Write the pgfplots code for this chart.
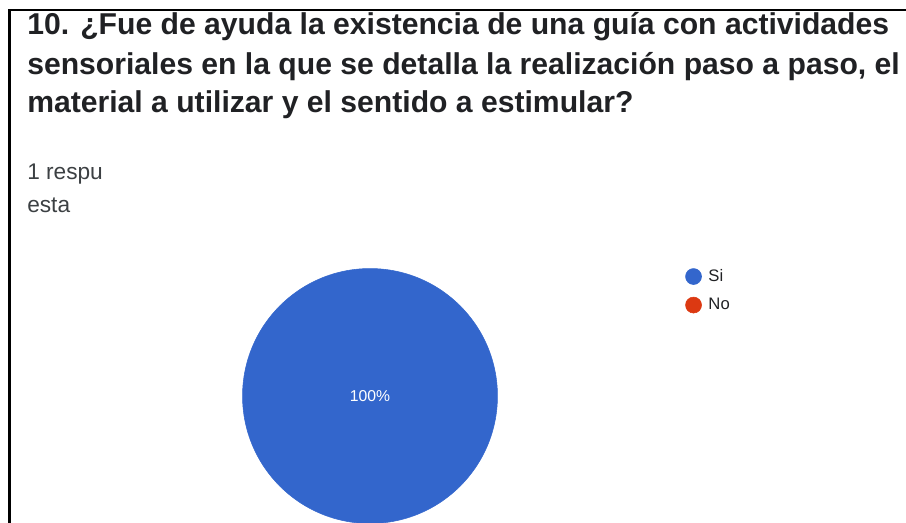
\documentclass[border=0pt]{standalone}
\usepackage{fontspec}
\setmainfont{Liberation Sans}
\usepackage{pgfplots}
\pgfplotsset{compat=1.18}
\definecolor{pieblue}{HTML}{3366CC}
\definecolor{piered}{HTML}{DC3912}
\definecolor{titlecol}{HTML}{202124}
\definecolor{subcol}{HTML}{3C4043}
\begin{document}
\begin{tikzpicture}
\begin{axis}[
  scale only axis, width=679.5pt, height=392.25pt,
  xmin=0, xmax=906, ymin=0, ymax=523, y dir=reverse,
  hide axis, clip=false,
  legend style={at={(axis cs:685,268)}, anchor=north west, draw=none, fill=none,
    font=\fontsize{12.5pt}{14pt}\selectfont\color{titlecol}, inner sep=0pt,
    row sep=9pt, nodes={inner xsep=5pt, inner ysep=0pt}},
  legend cell align=left,
  legend image code/.code={\fill[#1] (6pt,0pt) circle (6pt);},
]
\coordinate (bl) at (rel axis cs:0,0);
\coordinate (tr) at (rel axis cs:1,1);
% pie: single category with 100 %
\addplot[only marks, mark=*, mark size=95.6pt, color=pieblue, forget plot]
  coordinates {(370,396)};
\addplot[draw=none, mark=none, forget plot, nodes near coords, point meta=explicit symbolic,
  every node near coord/.append style={anchor=center, text=white,
    font=\fontsize{11.8pt}{13pt}\selectfont}]
  coordinates {(370,396) [100\%]};
\addlegendimage{pieblue}
\addlegendentry{Si}
\addlegendimage{piered}
\addlegendentry{No}
% text
\node[anchor=base west, inner sep=0pt, text=titlecol, font=\fontsize{22.6pt}{26pt}\selectfont\bfseries]
  at (axis cs:27,35) {10. ¿Fue de ayuda la existencia de una guía con actividades};
\node[anchor=base west, inner sep=0pt, text=titlecol, font=\fontsize{22.6pt}{26pt}\selectfont\bfseries]
  at (axis cs:27,75) {sensoriales en la que se detalla la realización paso a paso, el};
\node[anchor=base west, inner sep=0pt, text=titlecol, font=\fontsize{22.6pt}{26pt}\selectfont\bfseries]
  at (axis cs:27,113) {material a utilizar y el sentido a estimular?};
\node[anchor=base west, inner sep=0pt, text=subcol, font=\fontsize{17pt}{19pt}\selectfont]
  at (axis cs:27,180) {1 respu};
\node[anchor=base west, inner sep=0pt, text=subcol, font=\fontsize{17pt}{19pt}\selectfont]
  at (axis cs:27,213) {esta};
% frame
\draw[line width=2.2pt, black] (axis cs:9.5,523) -- (axis cs:9.5,10) -- (axis cs:906,10);
\end{axis}
\pgfresetboundingbox
\path (bl) rectangle (tr);
\end{tikzpicture}
\end{document}
